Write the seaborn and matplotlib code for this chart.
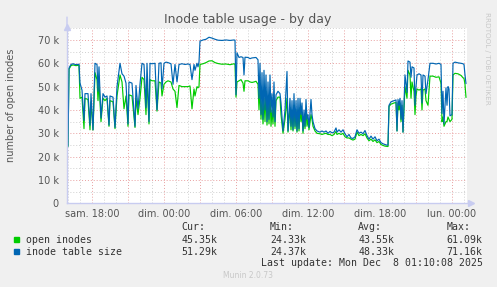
import matplotlib
matplotlib.use("Agg")
import matplotlib.pyplot as plt
import pandas as pd
import seaborn as sns

sns.set_theme(style="white")
plt.rcParams['font.family'] = ['DejaVu Sans']

# ---------------- data ----------------
start_hour = 15 + 55 / 60  # sam. 15:55 (hours since sam. 00:00)

minutes = [
    0, 5, 10, 20, 30, 45, 60, 65, 75, 85, 90, 105, 115, 120, 130, 140, 150, 155, 160, 170,
    180, 190, 200, 210, 215, 230, 240, 250, 265, 275, 285, 295, 305, 310, 325, 340, 345, 355, 365, 375,
    385, 395, 400, 410, 415, 425, 440, 450, 460, 470, 475, 485, 495, 505, 520, 530, 540, 550, 560, 575,
    590, 605, 615, 625, 635, 640, 650, 655, 660, 665, 680, 695, 710, 725, 740, 755, 775, 795, 815, 835,
    840, 845, 850, 860, 870, 880, 885, 890, 905, 915, 925, 935, 945, 955, 960, 965, 970, 975, 980, 985,
    990, 995, 1000, 1005, 1010, 1015, 1020, 1025, 1030, 1035, 1040, 1045, 1055, 1065, 1070, 1080, 1090, 1100, 1105, 1115,
    1120, 1125, 1130, 1135, 1140, 1145, 1150, 1155, 1160, 1165, 1170, 1175, 1180, 1185, 1190, 1195, 1200, 1205, 1210, 1220,
    1225, 1230, 1240, 1250, 1265, 1275, 1285, 1295, 1305, 1315, 1325, 1335, 1345, 1350, 1360, 1370, 1380, 1390, 1400, 1410,
    1420, 1430, 1440, 1450, 1460, 1470, 1480, 1490, 1500, 1510, 1520, 1530, 1540, 1550, 1560, 1570, 1580, 1590, 1600, 1605,
    1610, 1620, 1635, 1645, 1650, 1655, 1660, 1665, 1670, 1675, 1680, 1690, 1700, 1705, 1715, 1720, 1725, 1735, 1740, 1745,
    1750, 1760, 1770, 1775, 1780, 1790, 1795, 1805, 1815, 1830, 1845, 1860, 1870, 1875, 1880, 1885, 1895, 1900, 1905, 1910,
    1915, 1925, 1930, 1940, 1955, 1970, 1980, 1985, 1990, 1995,
]

inode_table_size_k = [
    24.4, 24.5, 58, 59.5, 59.8, 59.4, 59.6, 51.5, 48.5, 35.5, 47, 47, 33.5, 47, 31.5, 60, 59.5, 48, 58.5, 36.5,
    47, 45.5, 46, 33.5, 46, 45.5, 32.5, 50, 60, 55.5, 54.5, 51.5, 34, 52, 51.5, 33, 50.5, 40.5, 51, 60,
    59.5, 41, 60, 35, 60, 59.8, 60, 40, 60, 60.2, 49, 60, 60.5, 60.3, 59.8, 51, 59.5, 52, 59.5, 59.8,
    59.5, 59.7, 59.5, 53, 59.5, 57, 60, 58.5, 60.5, 69.5, 70, 70.3, 71.16, 70.8, 70.3, 69.9, 69.8, 70, 69.8, 70,
    69.9, 46.5, 64.5, 62.5, 62.8, 62.5, 55, 62.6, 62.5, 62, 62.3, 62.4, 62.5, 61.5, 45, 60, 38, 56, 36, 57,
    40, 55, 35, 52, 36, 55, 39, 47, 37, 52, 35, 46.5, 48, 47, 43, 31, 40, 56.5, 31, 45,
    33, 44, 31.5, 47, 33, 44, 31, 45, 32, 45, 38, 43, 31, 40, 33, 44.5, 36, 38, 32.5, 44.5,
    38, 35, 32, 31, 30.5, 31, 30.5, 31, 30, 30.8, 30.2, 30.5, 32.3, 30.5, 31.5, 30.5, 31.5, 29.8, 28.5, 29.5,
    28, 27.8, 28.5, 31.5, 30, 30.5, 29.8, 31.2, 29, 27.5, 28.8, 27.5, 28.5, 26.8, 27.5, 26, 25.5, 25.2, 24.9, 25,
    42, 43.5, 44, 44.3, 31, 44.5, 42, 45, 36, 44, 30.5, 55, 47.5, 61, 60.5, 54, 58.5, 58, 42, 50,
    55, 55.5, 55, 43, 55, 54.5, 47, 53, 60, 60, 59.7, 60, 59.5, 38.5, 48, 34, 49.5, 42, 50, 49,
    37.5, 38, 60, 60.5, 60.2, 60, 59.8, 59.5, 55, 51.29,
]

open_inodes_k = [
    24.33, 24.4, 57.5, 59, 59.3, 59.0, 59.2, 45, 45.5, 32, 45, 44.5, 31.5, 43.5, 31.4, 56, 53, 44, 52, 35,
    45, 44, 45, 33, 44, 43.5, 32, 46, 55, 52, 40.5, 46, 33, 46.5, 46, 32.5, 45, 38, 45, 54,
    53, 38, 53, 34, 53, 52.5, 52.5, 39.5, 52, 51.5, 46, 51, 52, 52.5, 52, 49, 48, 41, 50.5, 50,
    50, 50, 50.3, 40.5, 49, 46, 50, 49.5, 50, 59.5, 59.8, 60.3, 61, 61.09, 60.3, 59.9, 59.6, 59.7, 59.4, 59.8,
    59.5, 45.5, 52, 52.5, 53, 51.5, 48, 52.5, 52.5, 52, 51.8, 52, 52.3, 51, 40, 50, 36, 44, 34, 45,
    35, 48, 33.5, 44, 34, 47, 33, 40, 34, 44, 33, 44, 45.5, 45.5, 38, 30, 36, 45, 30.5, 41,
    31.5, 40, 31, 42, 32, 40, 30.5, 40, 31, 41, 35, 39, 30, 37, 32, 40, 33, 36, 31.5, 38,
    36, 33, 31, 30, 29.8, 29.5, 29.8, 30, 29.5, 29.5, 29, 29.5, 30.8, 29.5, 30, 29.5, 30, 28.5, 28, 28,
    27.5, 27.1, 27.5, 30.5, 29, 29.5, 29, 29.8, 28, 26.8, 27.5, 26.5, 27.2, 26, 26.5, 25.2, 24.8, 24.5, 24.4, 24.33,
    41.5, 42.5, 43, 43.2, 31, 43, 40, 43, 35, 42, 30.5, 50, 45, 57, 55, 45, 52, 48, 38, 46,
    49, 48.5, 49, 40, 48.5, 49, 44, 42, 54.5, 54.5, 54, 54.2, 51.5, 35, 37, 33, 35, 35, 37, 36,
    35, 36, 55, 55.7, 55.5, 54.8, 53.8, 53.5, 51, 45.35,
]

series_names = ["open inodes", "inode table size"]
series_colors = ["#00CC00", "#0066B3"]
stat_headers = ["Cur:", "Min:", "Avg:", "Max:"]
stats = {
    "open inodes": ["45.35k", "24.33k", "43.55k", "61.09k"],
    "inode table size": ["51.29k", "24.37k", "48.33k", "71.16k"],
}

tick_hours = [18, 24, 30, 36, 42, 48]
tick_labels = ["sam. 18:00", "dim. 00:00", "dim. 06:00", "dim. 12:00", "dim. 18:00", "lun. 00:00"]
ytick_values = [0, 10000, 20000, 30000, 40000, 50000, 60000, 70000]
ytick_labels = ["0", "10 k", "20 k", "30 k", "40 k", "50 k", "60 k", "70 k"]

title = "Inode table usage - by day"
ylabel = "number of open inodes"
last_update = "Last update: Mon Dec  8 01:10:08 2025"
footer = "Munin 2.0.73"
watermark = "RRDTOOL / TOBI OETIKER"

# ---------------- frame ----------------
hours = [start_hour + m / 60 for m in minutes]
df = pd.concat([
    pd.DataFrame({"hour": hours, "value": [v * 1000 for v in open_inodes_k], "series": series_names[0]}),
    pd.DataFrame({"hour": hours, "value": [v * 1000 for v in inode_table_size_k], "series": series_names[1]}),
], ignore_index=True)

W, H = 497, 287
BG = "#F0F0F0"
TXT = "#555555"
fig = plt.figure(figsize=(W / 100, H / 100), dpi=100, facecolor=BG)
ax = fig.add_axes([67 / W, (H - 203.3) / H, 400 / W, 175 / H])
ax.set_facecolor("white")

x0 = start_hour
x1 = start_hour + 400 * 5 / 60
ax.set_xlim(x0, x1)
ax.set_ylim(0, 75000)

# grid
for h in range(16, 50):
    major = (h % 3 == 0)
    ax.axvline(h, color="#E8A0A0" if major else "#D0D0D0", lw=0.7,
               ls=(0, (1, 2)), zorder=1)
for v in range(5000, 75001, 5000):
    major = (v % 10000 == 0)
    ax.axhline(v, color="#E8A0A0" if major else "#D0D0D0", lw=0.7,
               ls=(0, (1, 2)), zorder=1)

sns.lineplot(data=df, x="hour", y="value", hue="series", hue_order=series_names,
             palette=series_colors, estimator=None, sort=False, lw=0.85,
             legend=False, ax=ax, zorder=3)

for s in ["top", "right"]:
    ax.spines[s].set_visible(False)
for s in ["left", "bottom"]:
    ax.spines[s].set_color("#C8CCF0")
    ax.spines[s].set_linewidth(1.0)
    ax.spines[s].set_zorder(4)

# arrows at axis ends
ax.plot([x0], [75000 + 400], marker="^", ms=5, color="#C8CCF0", clip_on=False, zorder=5)
ax.plot([x1 + 0.3], [0], marker=">", ms=5, color="#C8CCF0", clip_on=False, zorder=5)
ax.annotate("", xy=(x0, 1.08), xytext=(x0, 1.0), xycoords=("data", "axes fraction"),
            arrowprops=dict(arrowstyle="-", color="#C8CCF0", lw=1.0))

ax.set_xticks(tick_hours)
ax.set_xticklabels(tick_labels)
ax.set_yticks(ytick_values)
ax.set_yticklabels(ytick_labels)
ax.tick_params(axis="x", length=0, pad=4, labelsize=7, labelcolor=TXT)
ax.tick_params(axis="y", length=0, pad=6, labelsize=7, labelcolor=TXT)
ax.set_xlabel("")
ax.set_ylabel("")

fig.text(0.499, 1 - 19.5 / H, title, ha="center", va="center", fontsize=9, color=TXT)
fig.text(11.5 / W, 1 - 105 / H, ylabel, ha="center", va="center", rotation=90,
         fontsize=7, color=TXT)
fig.text(487 / W, 1 - 58 / H, watermark, ha="center", va="center", rotation=270,
         fontsize=5.2, color="#C8C8C8")

mono = "DejaVu Sans Mono"
fs = 7.1
col_x = [181.7, 270, 358.3, 446.7]
for cx, hdr in zip(col_x, stat_headers):
    fig.text(cx / W, 1 - 227.3 / H, hdr, ha="left", va="center", family=mono, fontsize=fs, color="#333333")
row_y = [239.7, 251.7]
for ry, name, col in zip(row_y, series_names, series_colors):
    fig.patches.append(plt.Rectangle((14 / W, 1 - (ry + 2.7) / H), 5.3 / W, 5.3 / H,
                                     transform=fig.transFigure, color=col, figure=fig))
    fig.text(26 / W, 1 - ry / H, name, ha="left", va="center", family=mono, fontsize=fs, color="#333333")
    for cx, val in zip(col_x, stats[name]):
        fig.text(cx / W, 1 - ry / H, val, ha="left", va="center", family=mono, fontsize=fs, color="#333333")
fig.text(483 / W, 1 - 263.3 / H, last_update, ha="right", va="center", family=mono, fontsize=fs, color="#333333")
fig.text(248 / W, 1 - 276 / H, footer, ha="center", va="center", fontsize=5.5, color="#C8C8C8")

fig.savefig("out.png", dpi=100, facecolor=BG)
